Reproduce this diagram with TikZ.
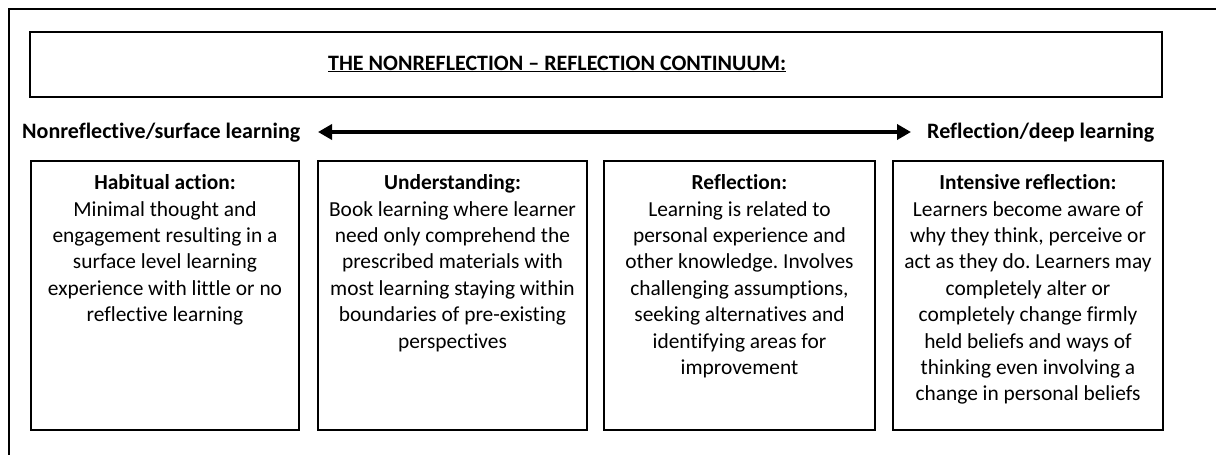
\documentclass[tikz,border=0pt]{standalone}
\usepackage{fontspec}
\setmainfont[Ligatures=NoCommon]{Carlito}
\frenchspacing
\usetikzlibrary{arrows.meta}
\begin{document}
\begin{tikzpicture}[x=1pt,y=-1pt,
  box/.style={draw, line width=1.2pt, minimum width=#1, minimum height=269pt, inner sep=0pt},
  boxtext/.style={anchor=north, align=center, inner sep=0pt, font=\fontsize{21.4}{26.4}\selectfont},
  side/.style={anchor=west, inner sep=0pt, font=\fontsize{22}{26}\selectfont\bfseries}]
\useasboundingbox (0,0) rectangle (1216,455);
\draw[line width=1.6pt] (9,470) -- (9,9) -- (1230,9);
\node[draw, line width=1.2pt, minimum width=1132pt, minimum height=65pt, inner sep=0pt] (title) at (596,64.5) {};
\node[anchor=west, inner sep=0pt, font=\fontsize{22}{26}\selectfont\bfseries] (tt) at (328,64) {\underline{THE NONREFLECTION -- REFLECTION CONTINUUM:}};
\node[side] (ll) at (22,133) {Nonreflective/surface learning};
\node[side] (rl) at (927,133) {Reflection/deep learning};
\coordinate (al) at (318,132);
\coordinate (ar) at (911,132);
\draw[line width=4pt, {Triangle[length=14pt,width=15pt]}-{Triangle[length=14pt,width=15pt]}] (al) -- (ar);
\node[box=268pt] (b1) at (165,295.5) {};
\node[box=269pt] (b2) at (452.5,295.5) {};
\node[box=271pt] (b3) at (739.5,295.5) {};
\node[box=270pt] (b4) at (1028,295.5) {};
\node[boxtext] (t1) at ([yshift=-14pt]b1.north) {\textbf{Habitual action:}\\Minimal thought and\\engagement resulting in a\\surface level learning\\experience with little or no\\reflective learning};
\node[boxtext] (t2) at ([yshift=-14pt]b2.north) {\textbf{Understanding:}\\Book learning where learner\\need only comprehend the\\prescribed materials with\\most learning staying within\\boundaries of pre-existing\\perspectives};
\node[boxtext] (t3) at ([yshift=-14pt]b3.north) {\textbf{Reflection:}\\Learning is related to\\personal experience and\\other knowledge. Involves\\challenging assumptions,\\seeking alternatives and\\identifying areas for\\improvement};
\node[boxtext] (t4) at ([yshift=-14pt]b4.north) {\textbf{Intensive reflection:}\\Learners become aware of\\why they think, perceive or\\act as they do. Learners may\\completely alter or\\completely change firmly\\held beliefs and ways of\\thinking even involving a\\change in personal beliefs};
\end{tikzpicture}
\end{document}
